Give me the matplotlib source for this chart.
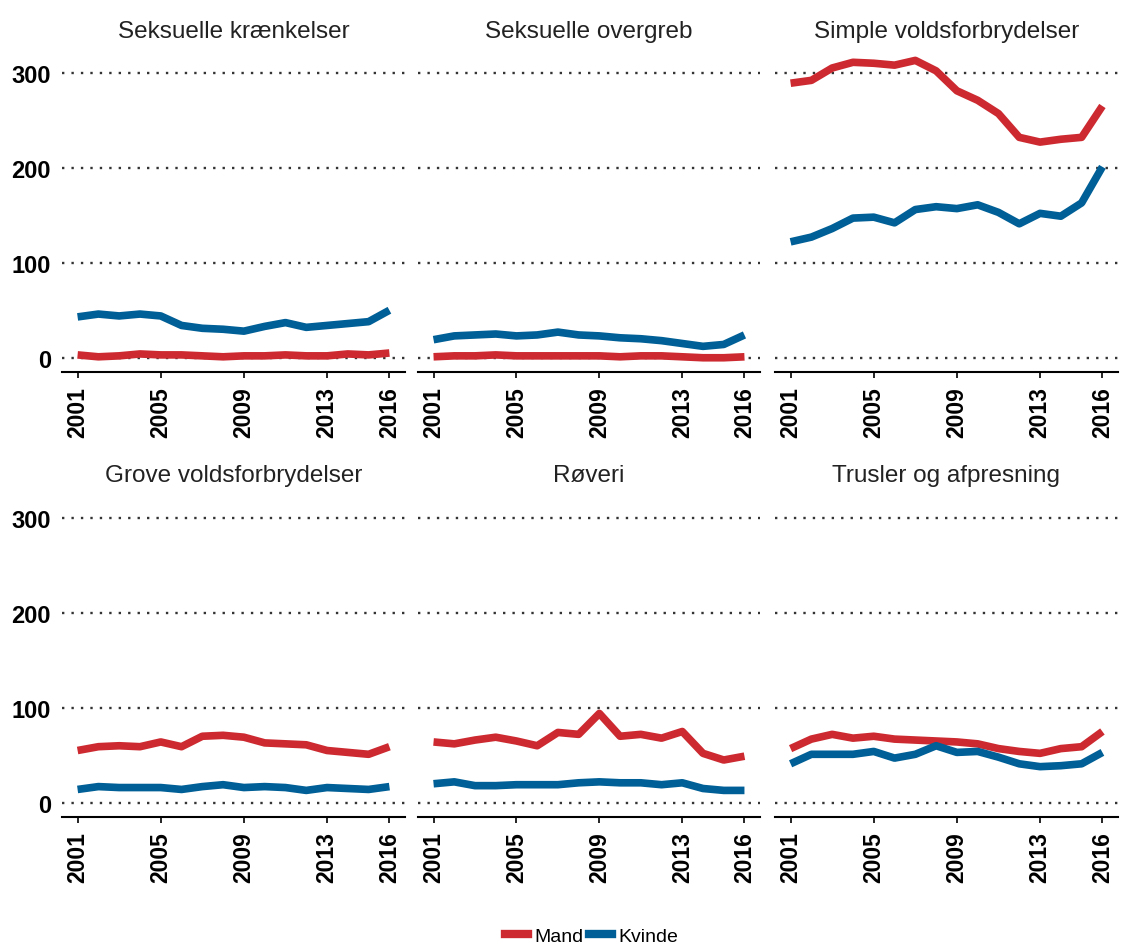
import matplotlib
matplotlib.use("Agg")
import matplotlib.pyplot as plt

plt.rcParams['font.family'] = ['Liberation Sans', 'DejaVu Sans']

years = list(range(2001, 2017))
titles = ["Seksuelle krænkelser", "Seksuelle overgreb", "Simple voldsforbrydelser",
          "Grove voldsforbrydelser", "Røveri", "Trusler og afpresning"]

# Mand
mand_sk = [3, 1, 2, 4, 3, 3, 2, 1, 2, 2, 3, 2, 2, 4, 3, 5]
mand_so = [1, 2, 2, 3, 2, 2, 2, 2, 2, 1, 2, 2, 1, 0, 0, 1]
mand_sv = [289, 292, 305, 311, 310, 308, 313, 302, 281, 271, 257, 232, 227, 230, 232, 265]
mand_gv = [55, 59, 60, 59, 64, 59, 70, 71, 69, 63, 62, 61, 55, 53, 51, 59]
mand_ro = [64, 62, 66, 69, 65, 60, 74, 72, 94, 70, 72, 68, 75, 52, 45, 49]
mand_tr = [57, 67, 72, 68, 70, 67, 66, 65, 64, 62, 57, 54, 52, 57, 59, 75]

# Kvinde
kvinde_sk = [43, 46, 44, 46, 44, 34, 31, 30, 28, 33, 37, 32, 34, 36, 38, 50]
kvinde_so = [19, 23, 24, 25, 23, 24, 27, 24, 23, 21, 20, 18, 15, 12, 14, 24]
kvinde_sv = [122, 127, 136, 147, 148, 142, 156, 159, 157, 161, 153, 141, 152, 149, 163, 201]
kvinde_gv = [14, 17, 16, 16, 16, 14, 17, 19, 16, 17, 16, 13, 16, 15, 14, 17]
kvinde_ro = [20, 22, 18, 18, 19, 19, 19, 21, 22, 21, 21, 19, 21, 15, 13, 13]
kvinde_tr = [41, 51, 51, 51, 54, 47, 51, 60, 53, 54, 48, 41, 38, 39, 41, 53]

mand = [mand_sk, mand_so, mand_sv, mand_gv, mand_ro, mand_tr]
kvinde = [kvinde_sk, kvinde_so, kvinde_sv, kvinde_gv, kvinde_ro, kvinde_tr]

RED = '#cc2a30'
BLUE = '#005f96'

W, H = 1122, 945
fig = plt.figure(figsize=(W / 100, H / 100), dpi=100)

cols = [(62, 405), (418, 760), (775, 1118)]
rows = [(50, 373), (495, 818)]

for i in range(6):
    r, c = divmod(i, 3)
    x0, x1 = cols[c]
    ytop, ybot = rows[r]
    ax = fig.add_axes([x0 / W, 1 - ybot / H, (x1 - x0) / W, (ybot - ytop) / H])
    ax.plot(years, mand[i], color=RED, lw=5.5, solid_capstyle='butt', label='Mand', zorder=3)
    ax.plot(years, kvinde[i], color=BLUE, lw=5.5, solid_capstyle='butt', label='Kvinde', zorder=3)
    ax.set_xlim(2000.25, 2016.75)
    ax.set_ylim(-15, 325)
    ax.set_yticks([0, 100, 200, 300])
    ax.set_xticks([2001, 2005, 2009, 2013, 2016])
    ax.grid(axis='y', color='#333333', linestyle=(0, (1, 3)), lw=1.7, zorder=1)
    for s in ['top', 'right', 'left']:
        ax.spines[s].set_visible(False)
    ax.spines['bottom'].set_linewidth(1.5)
    ax.tick_params(axis='y', length=0, pad=8, labelsize=17)
    ax.tick_params(axis='x', length=4, width=1.2, pad=6, labelsize=16.5, rotation=90)
    for lab in ax.get_xticklabels() + ax.get_yticklabels():
        lab.set_fontweight('bold')
    if c != 0:
        ax.set_yticklabels([])
    ax.set_title(titles[i], fontsize=17.5, color='#222222', pad=9)

handles = [plt.Line2D([], [], color=RED, lw=6), plt.Line2D([], [], color=BLUE, lw=6)]
fig.legend(handles, ['Mand', 'Kvinde'], loc='center', bbox_to_anchor=(0.527, 1 - 937 / H),
           ncol=2, frameon=False, fontsize=14, handlelength=1.2, handletextpad=0.3,
           columnspacing=0.3)

fig.savefig('out.png', dpi=100)
